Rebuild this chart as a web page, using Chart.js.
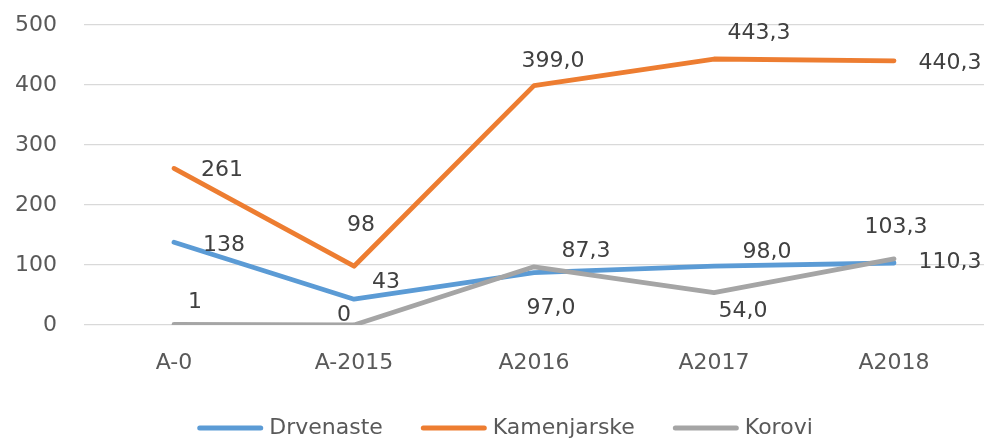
<!DOCTYPE html>
<html>
<head>
<meta charset="utf-8">
<script src="https://cdn.jsdelivr.net/npm/chart.js@4/dist/chart.umd.min.js"></script>
<style>
  html, body { margin: 0; padding: 0; background: #fff; }
  #wrap { width: 990px; height: 440px; position: relative; }
</style>
</head>
<body>
<div id="wrap"><canvas id="chart"></canvas></div>
<script>
const categories = ["A-0", "A-2015", "A2016", "A2017", "A2018"]
const drvenaste = [138, 43, 87.3, 98.0, 103.3]
const kamenjarske = [261, 98, 399.0, 443.3, 440.3]
const korovi = [1, 0, 97.0, 54.0, 110.3]
// first two columns are whole numbers, the rest show one decimal
const decimals = [0, 0, 1, 1, 1]
const yTicks = [0, 100, 200, 300, 400, 500]

const FONT = "'DejaVu Sans', sans-serif"
const TEXT_SIZE = 22

// where each value label sits relative to its point (dx, dy in px)
const labelOffsets = [
  [[50, 3], [32, -17], [52, -21], [53, -14], [2, -36]],
  [[48, 2], [7, -41], [19, -24], [45, -26], [56, 2]],
  [[21, -22], [-10, -10], [17, 41], [29, 19], [56, 3]]
]

const valueLabels = {
  id: "valueLabels",
  afterDatasetsDraw(chart) {
    const ctx = chart.ctx
    ctx.save()
    ctx.font = TEXT_SIZE + "px " + FONT
    ctx.fillStyle = "#404040"
    ctx.textAlign = "center"
    ctx.textBaseline = "middle"
    chart.data.datasets.forEach((ds, di) => {
      const meta = chart.getDatasetMeta(di)
      meta.data.forEach((pt, i) => {
        const text = ds.data[i].toFixed(decimals[i]).replace(".", ",")
        const [dx, dy] = labelOffsets[di][i]
        ctx.fillText(text, pt.x + dx, pt.y + dy)
      })
    })
    ctx.restore()
  }
}

// legend row under the axis: short thick line, then the series name
const lineLegend = {
  id: "lineLegend",
  afterDraw(chart) {
    const ctx = chart.ctx
    const swatch = 66, gap = 6, spacing = 38
    const centerX = 505, y = 428
    ctx.save()
    ctx.font = TEXT_SIZE + "px " + FONT
    ctx.textBaseline = "middle"
    const items = chart.data.datasets.map(ds => ({
      text: ds.label,
      color: ds.borderColor,
      w: ctx.measureText(ds.label).width
    }))
    const total = items.reduce((s, it) => s + swatch + gap + it.w, 0) + spacing * (items.length - 1)
    let x = centerX - total / 2
    items.forEach(it => {
      ctx.strokeStyle = it.color
      ctx.lineWidth = 5
      ctx.lineCap = "round"
      ctx.beginPath()
      ctx.moveTo(x + 2.5, y)
      ctx.lineTo(x + swatch - 2.5, y)
      ctx.stroke()
      ctx.fillStyle = "#595959"
      ctx.fillText(it.text, x + swatch + gap, y)
      x += swatch + gap + it.w + spacing
    })
    ctx.restore()
  }
}

function series(label, data, color, order) {
  return {
    label: label,
    data: data,
    borderColor: color,
    backgroundColor: color,
    borderWidth: 4.8,
    borderCapStyle: "round",
    borderJoinStyle: "round",
    pointRadius: 0,
    tension: 0,
    order: order
  }
}

new Chart(document.getElementById("chart"), {
  type: "line",
  data: {
    labels: categories,
    datasets: [
      series("Drvenaste", drvenaste, "#5B9BD5", 3),
      series("Kamenjarske", kamenjarske, "#ED7D31", 2),
      series("Korovi", korovi, "#A5A5A5", 1)
    ]
  },
  options: {
    responsive: true,
    maintainAspectRatio: false,
    animation: false,
    layout: {
      padding: { top: 25, right: 6, left: 0, bottom: 27 }
    },
    plugins: {
      tooltip: { enabled: false },
      legend: { display: false }
    },
    scales: {
      x: {
        offset: true,
        grid: { display: false },
        border: { display: false },
        ticks: {
          color: "#595959",
          font: { family: FONT, size: TEXT_SIZE },
          padding: 17,
          maxRotation: 0
        },
        afterFit: s => { s.height = 88 }
      },
      y: {
        min: 0,
        max: 500,
        afterBuildTicks: s => { s.ticks = yTicks.map(v => ({ value: v })) },
        grid: { color: "#D9D9D9", lineWidth: 1.3, drawTicks: false },
        border: { display: false },
        ticks: {
          color: "#595959",
          font: { family: FONT, size: TEXT_SIZE },
          padding: 27
        },
        afterFit: s => {
          s.width = 84
          s.paddingTop = 0
          s.paddingBottom = 0
        }
      }
    }
  },
  plugins: [valueLabels, lineLegend]
})
</script>
</body>
</html>
